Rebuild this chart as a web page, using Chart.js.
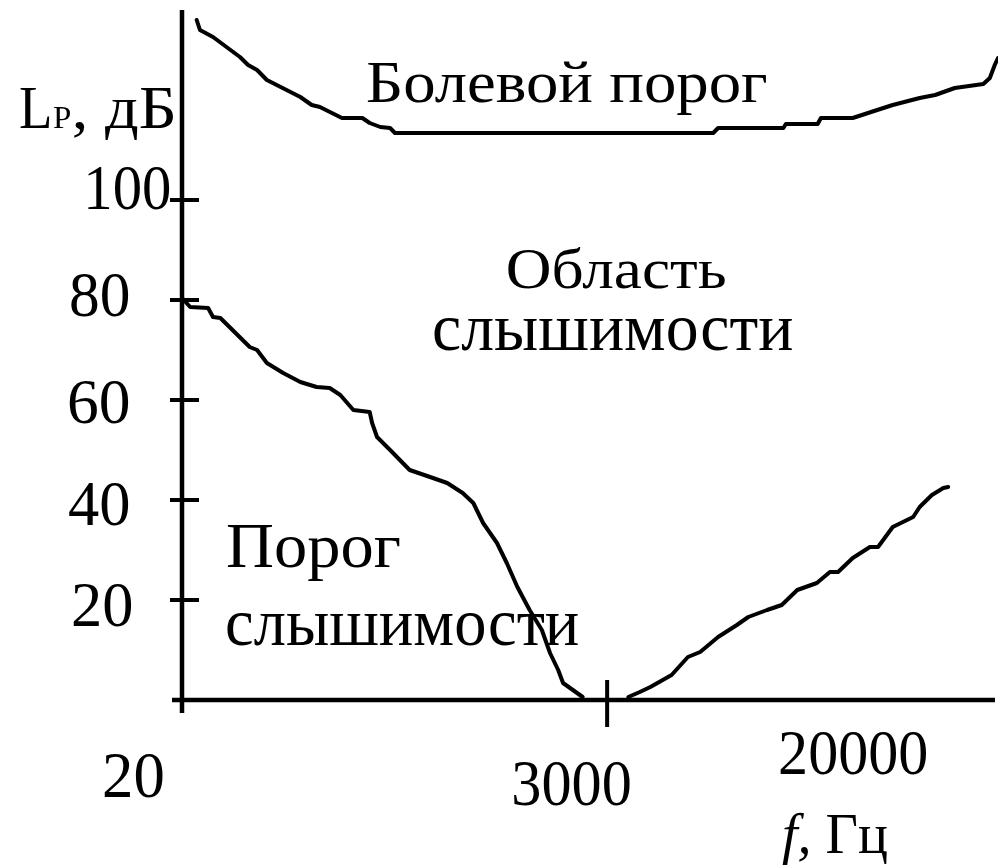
<!DOCTYPE html>
<html>
<head>
<meta charset="utf-8">
<script src="https://cdn.jsdelivr.net/npm/chart.js@4/dist/chart.umd.min.js"></script>
<style>
  html, body { margin: 0; padding: 0; background: #fff; }
  #wrap { width: 998px; height: 866px; position: relative; }
</style>
</head>
<body>
<div id="wrap"><canvas id="hearingChart"></canvas></div>
<script>
// x is the position along the (schematic) frequency axis, 0..100
const painX = [1.8, 2.2, 3.8, 7.1, 8.1, 9.2, 10.4, 14.5, 15.9, 16.9, 19.6, 22.1, 23.0, 24.3, 25.5, 26.1,
  65.1, 65.7, 73.7, 74.0, 77.9, 78.3, 82.2, 85.2, 87.1, 90.4, 92.3, 94.7, 98.2, 99.0, 99.6, 100];
const painY = [136, 134, 132.6, 128.6, 127, 126, 124, 120.6, 119, 118.6, 116.4, 116.4, 115.4, 114.6, 114.4, 113.4,
  113.4, 114.4, 114.4, 115.2, 115.2, 116.4, 116.4, 118, 119, 120.4, 121, 122.4, 123.2, 124.4, 127, 128.4];

const thresholdX = [0, 1.0, 3.2, 3.8, 4.7, 8.3, 9.2, 10.4, 12.4, 14.5, 16.5, 18.1, 19.4, 21.0, 23.0, 23.3, 23.9,
  25.5, 27.9, 30.4, 32.5, 34.4, 35.7, 36.9, 38.6, 39.8, 41.1, 42.6, 44.1, 45.1, 46.1, 46.7, 47.9, 49.1, 52,
  54.7, 56.1, 57.4, 60.0, 62.0, 63.5, 65.7, 68.0, 69.4, 71.7, 73.5, 75.4, 77.8, 79.4, 80.4, 82.2, 84.3, 85.3,
  87.1, 89.6, 90.4, 91.9, 93.3, 93.9];
const thresholdY = [80.4, 78.6, 78.4, 76.6, 76.4, 70.6, 70, 67.4, 65.4, 63.6, 62.6, 62.4, 61, 58, 57.6, 55.4, 52.6,
  50, 46, 44.6, 43.4, 41.4, 39.4, 35.4, 31.4, 27.4, 22.6, 18, 14, 9.4, 6, 3.4, 2, 0.6, null,
  0.6, 1.6, 2.6, 5, 8.6, 9.6, 12.6, 15, 16.6, 18, 19, 22, 23.4, 25.6, 25.6, 28.4, 30.6, 30.6,
  34.6, 36.6, 38.6, 41, 42.4, 42.6];

const levelTicks = [20, 40, 60, 80, 100];
const freqTickLabels = ['20', '3000', '20000'];
const freqTickPos = [0, 52.1, 82];

const SERIF = '"Liberation Serif", "Times New Roman", serif';

function toPoints(xs, ys) {
  return xs.map((x, i) => ({x: x, y: ys[i]}));
}

// draw text squeezed/stretched horizontally so the ink spans left..right
function fitText(ctx, text, left, right, baseline, size, style) {
  ctx.save();
  ctx.font = (style || '') + ' ' + size + 'px ' + SERIF;
  ctx.textAlign = 'left';
  ctx.textBaseline = 'alphabetic';
  const m = ctx.measureText(text);
  const inkW = m.actualBoundingBoxLeft + m.actualBoundingBoxRight;
  ctx.translate(left, baseline);
  ctx.scale((right - left) / inkW, 1);
  ctx.fillText(text, m.actualBoundingBoxLeft, 0);
  ctx.restore();
}

const axesPlugin = {
  id: 'schemeAxes',
  afterDatasetsDraw(chart) {
    const ctx = chart.ctx;
    const xs = chart.scales.x, ys = chart.scales.y;
    const x0 = xs.getPixelForValue(0);
    const y0 = ys.getPixelForValue(0);
    ctx.save();
    ctx.strokeStyle = '#000';
    ctx.fillStyle = '#000';
    ctx.lineWidth = 4.5;
    ctx.lineCap = 'butt';

    // axes
    ctx.beginPath();
    ctx.moveTo(x0, ys.getPixelForValue(ys.max));
    ctx.lineTo(x0, y0 + 13);
    ctx.moveTo(x0 - 10, y0);
    ctx.lineTo(xs.getPixelForValue(xs.max) - 3, y0);
    ctx.stroke();

    // level ticks
    ctx.lineWidth = 4;
    levelTicks.forEach(v => {
      const py = ys.getPixelForValue(v);
      ctx.beginPath();
      ctx.moveTo(x0 - 12, py);
      ctx.lineTo(x0 + 17, py);
      ctx.stroke();
    });
    // frequency tick at 3000
    const tx = xs.getPixelForValue(freqTickPos[1]);
    ctx.beginPath();
    ctx.moveTo(tx, y0 - 20);
    ctx.lineTo(tx, y0 + 27);
    ctx.stroke();

    // level tick labels
    const yLab = {100: [88, 170, 9], 80: [71, 129, 16], 60: [69, 129, 23], 40: [69, 129, 25], 20: [73, 132, 26]};
    levelTicks.forEach(v => {
      const b = yLab[v];
      fitText(ctx, String(v), b[0], b[1], ys.getPixelForValue(v) + b[2], 63);
    });

    // frequency labels
    fitText(ctx, freqTickLabels[0], 104, 163, 797, 66);
    fitText(ctx, freqTickLabels[1], 514, 630, 805, 66);
    fitText(ctx, freqTickLabels[2], 780, 927, 774, 63);

    // axis titles
    fitText(ctx, 'L', 20, 50, 128, 62);
    fitText(ctx, 'P', 53, 70, 128, 31);
    fitText(ctx, ', дБ', 74, 173, 128, 62);
    ctx.font = 'italic 56px ' + SERIF;
    ctx.textAlign = 'left';
    ctx.fillText('f,', 782, 853);
    const fw = ctx.measureText('f, ').width;
    ctx.font = '56px ' + SERIF;
    ctx.fillText('Гц', 782 + fw, 853);

    // annotations
    fitText(ctx, 'Болевой порог', 367, 767, 102, 60);
    fitText(ctx, 'Область', 508, 725, 288, 58);
    fitText(ctx, 'слышимости', 434, 792, 350, 68);
    fitText(ctx, 'Порог', 227, 400, 567, 63);
    fitText(ctx, 'слышимости', 227, 578, 645, 68);
    ctx.restore();
  }
};

const lineStyle = {
  borderColor: '#000',
  borderWidth: 4,
  pointRadius: 0,
  tension: 0,
  fill: false,
  spanGaps: false,
  clip: false,
  borderJoinStyle: 'round',
  borderCapStyle: 'round'
};

new Chart(document.getElementById('hearingChart'), {
  type: 'line',
  data: {
    datasets: [
      Object.assign({label: 'Болевой порог', data: toPoints(painX, painY)}, lineStyle),
      Object.assign({label: 'Порог слышимости', data: toPoints(thresholdX, thresholdY)}, lineStyle)
    ]
  },
  options: {
    responsive: true,
    maintainAspectRatio: false,
    animation: false,
    layout: {padding: {left: 182, right: 0, top: 10, bottom: 166}},
    scales: {
      x: {type: 'linear', min: 0, max: 100, display: false},
      y: {type: 'linear', min: 0, max: 138, display: false}
    },
    plugins: {
      legend: {display: false},
      tooltip: {enabled: false}
    }
  },
  plugins: [axesPlugin]
});
</script>
</body>
</html>
